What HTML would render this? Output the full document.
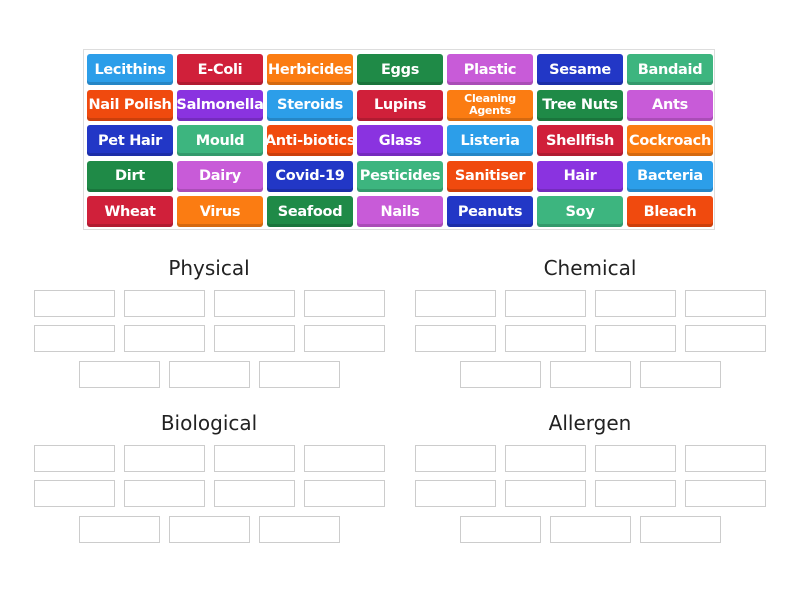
<!DOCTYPE html><html><head><style>
body{margin:0;width:800px;height:600px;background:#fff;position:relative;font-family:"DejaVu Sans","Liberation Sans",sans-serif;overflow:hidden}
#c{position:absolute;left:83px;top:49px;width:632px;height:181px;border:1px solid #ddd;box-sizing:border-box}
.t{position:absolute;width:86px;height:31px;border-radius:3px;color:#fff;font-weight:bold;font-size:14.5px;display:flex;align-items:center;justify-content:center;text-align:center;white-space:nowrap;box-shadow:inset 0 -3px 0 rgba(0,0,0,.15);letter-spacing:-0.3px}
.s{font-size:11px;line-height:12px;white-space:normal}
.b{position:absolute;width:81px;height:27px;border:1px solid #ccc;box-sizing:border-box}
.h{position:absolute;width:380px;text-align:center;font-size:20px;color:#222}
</style></head><body>
<div id="c"></div>
<script>
const C={b:'#2c9ee9',r:'#d0203a',o:'#fb7c12',g:'#1f8a47',p:'#c85bd8',n:'#2237c6',t:'#3db57f',x:'#f04a0e',v:'#8a33e0'};
const R=[[['Lecithins','b'],['E-Coli','r'],['Herbicides','o'],['Eggs','g'],['Plastic','p'],['Sesame','n'],['Bandaid','t']],
[['Nail Polish','x'],['Salmonella','v'],['Steroids','b'],['Lupins','r'],['Cleaning Agents','o'],['Tree Nuts','g'],['Ants','p']],
[['Pet Hair','n'],['Mould','t'],['Anti-biotics','x'],['Glass','v'],['Listeria','b'],['Shellfish','r'],['Cockroach','o']],
[['Dirt','g'],['Dairy','p'],['Covid-19','n'],['Pesticides','t'],['Sanitiser','x'],['Hair','v'],['Bacteria','b']],
[['Wheat','r'],['Virus','o'],['Seafood','g'],['Nails','p'],['Peanuts','n'],['Soy','t'],['Bleach','x']]];
let h='';
R.forEach((row,i)=>row.forEach((c,j)=>{h+=`<div class="t${c[0]=='Cleaning Agents'?' s':''}" style="left:${87+j*90}px;top:${54+i*35.5}px;background:${C[c[1]]}">${c[0]=='Cleaning Agents'?'Cleaning<br>Agents':c[0]}</div>`}));
[['Physical',34,256],['Chemical',415,256],['Biological',34,411],['Allergen',415,411]].forEach(([n,x,y])=>{
h+=`<div class="h" style="left:${x-15}px;top:${y}px">${n}</div>`;
for(let r=0;r<2;r++)for(let k=0;k<4;k++)h+=`<div class="b" style="left:${x+k*90}px;top:${y+34+r*35}px"></div>`;
for(let k=0;k<3;k++)h+=`<div class="b" style="left:${x+45+k*90}px;top:${y+105}px"></div>`;
});
document.body.insertAdjacentHTML('beforeend',h);
</script>
</body></html>
